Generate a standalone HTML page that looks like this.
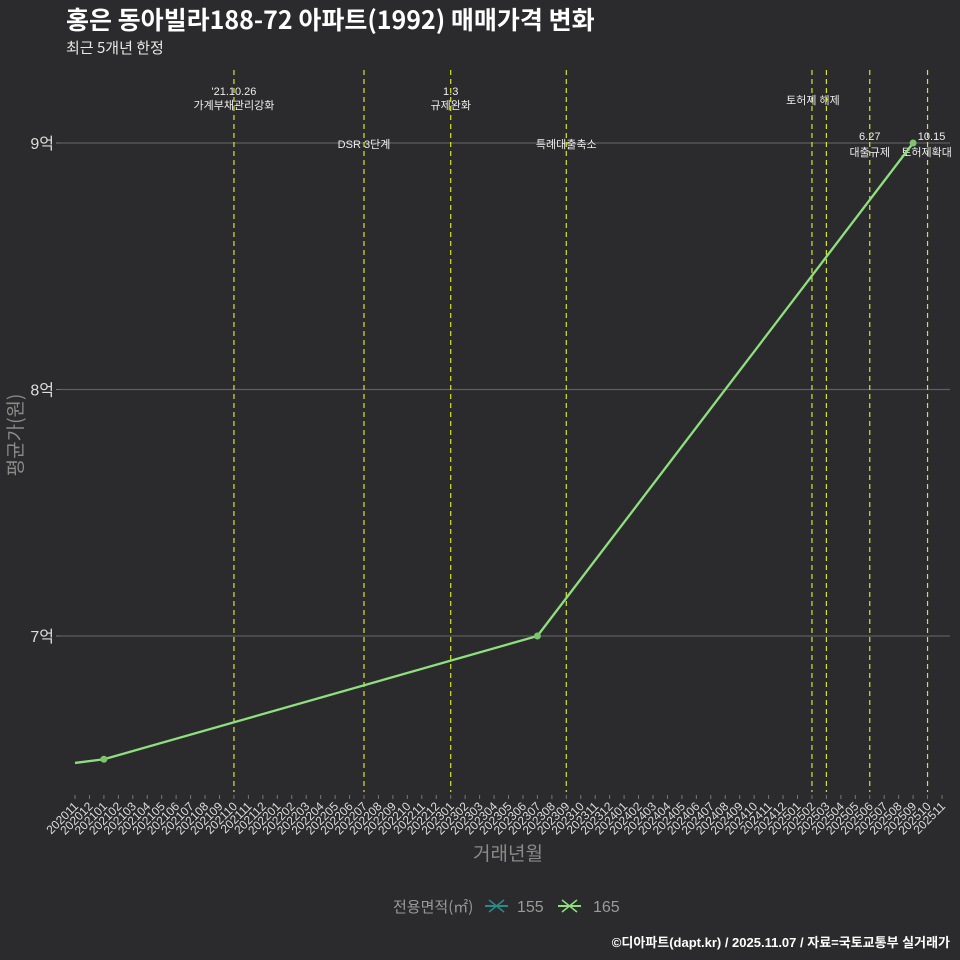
<!DOCTYPE html>
<html><head><meta charset="utf-8">
<style>
html,body{margin:0;background:#2b2b2d;width:960px;height:960px;overflow:hidden;font-family:"Liberation Sans","Noto Sans CJK KR",sans-serif;}
svg{display:block}
svg text{font-family:"Liberation Sans","Noto Sans CJK KR",sans-serif;}
svg text.cjk{font-family:"Noto Sans CJK KR","Liberation Sans",sans-serif;}
</style></head>
<body>
<svg id="chart" width="960" height="960" xmlns="http://www.w3.org/2000/svg">
<rect width="960" height="960" fill="#2b2b2d"/>
<text class="cjk" x="66" y="29" font-size="25" font-weight="bold" fill="#ffffff">홍은 동아빌라188-72 아파트(1992) 매매가격 변화</text>
<text class="cjk" x="66" y="53" font-size="15" fill="#e8e8e8">최근 5개년 한정</text>
<g id="grid"></g>
<g id="vlines"></g>
<g id="series"></g>
<g id="xaxis"></g>
<text class="cjk" transform="translate(22,435) rotate(-90)" text-anchor="middle" font-size="19" fill="#8a8a8a">평균가(원)</text>
<text class="cjk" x="508" y="860" text-anchor="middle" font-size="19" fill="#8a8a8a">거래년월</text>
<g>
<text class="cjk" x="393" y="912" font-size="15" fill="#9a9a9a">전용면적(㎡)</text>
<g>
<line x1="485" y1="906" x2="508" y2="906" stroke="#2a8a88" stroke-width="2"/>
<path d="M489 900 L504 912 M504 900 L489 912" stroke="#2a8a88" stroke-width="1.5"/>
<text x="517" y="912" font-size="16" fill="#9a9a9a">155</text></g>
<g>
<line x1="558" y1="906" x2="581" y2="906" stroke="#8ee07e" stroke-width="2"/>
<path d="M562 900 L577 912 M577 900 L562 912" stroke="#8ee07e" stroke-width="1.5"/>
<text x="593" y="912" font-size="16" fill="#9a9a9a">165</text></g>
</g>
<text x="950" y="947" text-anchor="end" font-size="13" font-weight="bold" fill="#ffffff">©디아파트(dapt.kr) / 2025.11.07 / 자료=국토교통부 실거래가</text>
</svg>
<script>
const months = [];
for (let y=2020,m=11; !(y===2025&&m===12); ) { months.push(''+y+(m<10?'0':'')+m); m++; if(m>12){m=1;y++;} }
const seriesMonths = ['202011','202101','202307','202509'];
const seriesValues = [6.485, 6.5, 7.0, 9.0];
const markerShown = [false, true, true, true];
const yTicks = [7, 8, 9];
const yTickLabels = ['7억','8억','9억'];
const eventMonths = ['202110','202207','202301','202309','202502','202503','202506','202510'];
const eventLine1 = ["'21.10.26",'','1.3','','토허제 해제','','6.27','10.15'];
const eventLine2 = ['가계부채관리강화','DSR 3단계','규제완화','특례대출축소','','','대출규제','토허제확대'];

const NS='http://www.w3.org/2000/svg';
const x0=75, dx=(942-75)/60;
function xScale(mo){return x0+months.indexOf(mo)*dx;}
function yScale(v){return 636-(v-7)*246.5;}
function mk(tag,attrs,parent){const e=document.createElementNS(NS,tag);for(const k in attrs)e.setAttribute(k,attrs[k]);parent.appendChild(e);return e;}

const grid=document.getElementById('grid');
yTicks.forEach((t,i)=>{
  const y=yScale(t);
  const l=mk('line',{x1:60,x2:950,y1:y,y2:y,stroke:'#5e5e60','stroke-width':1.2},grid);
  
  
  mk('line',{x1:56,x2:60,y1:y,y2:y,stroke:'#777','stroke-width':1},grid);
  const tx=mk('text',{x:54,y:y+6,'text-anchor':'end','font-size':16,fill:'#dddddd'},grid);
  tx.textContent=yTickLabels[i];
  
  
});

const vl=document.getElementById('vlines');
eventMonths.forEach((mo,i)=>{
  const x=xScale(mo);
  const l=mk('line',{x1:x,x2:x,y1:70,y2:792,stroke:'#d6e52a','stroke-width':1.2,'stroke-dasharray':'5,4'},vl);
  
  
  const sets={0:[95,109],1:[null,148],2:[95,109],3:[null,148],4:[null,104],6:[140,156],7:[140,156]};
  const s=sets[i]; if(!s) return;
  if(eventLine1[i]){
    const t=mk('text',{x:i===4?x+1:(i===7?x+4:x),y:s[1]&&eventLine2[i]?s[0]:s[1],'text-anchor':'middle','font-size':11,fill:'#eeeeee'},vl);
    t.textContent=eventLine1[i];
    
    
  }
  if(eventLine2[i]){
    const t=mk('text',{x:i===7?x-1:x,y:s[1],'text-anchor':'middle','font-size':11,fill:'#eeeeee'},vl);
    t.textContent=eventLine2[i];
    
    
  }
});

const sg=document.getElementById('series');
const pts=seriesMonths.map((m,i)=>xScale(m)+','+yScale(seriesValues[i])).join(' ');
const pl=mk('polyline',{points:pts,fill:'none',stroke:'#8ee07e','stroke-width':2.3},sg);


seriesMonths.forEach((m,i)=>{
  if(!markerShown[i]) return;
  const c=mk('circle',{cx:xScale(m),cy:yScale(seriesValues[i]),r:3.5,fill:'#7cc56e'},sg);
  
  
});

const xa=document.getElementById('xaxis');
months.forEach(mo=>{
  const x=xScale(mo);
  mk('line',{x1:x,x2:x,y1:795,y2:799,stroke:'#777','stroke-width':1},xa);
  const t=mk('text',{transform:`translate(${x+4},${807}) rotate(-45)`,'text-anchor':'end','font-size':12,fill:'#dddddd'},xa);
  t.textContent=mo;
  
  
});
</script>
</body></html>
